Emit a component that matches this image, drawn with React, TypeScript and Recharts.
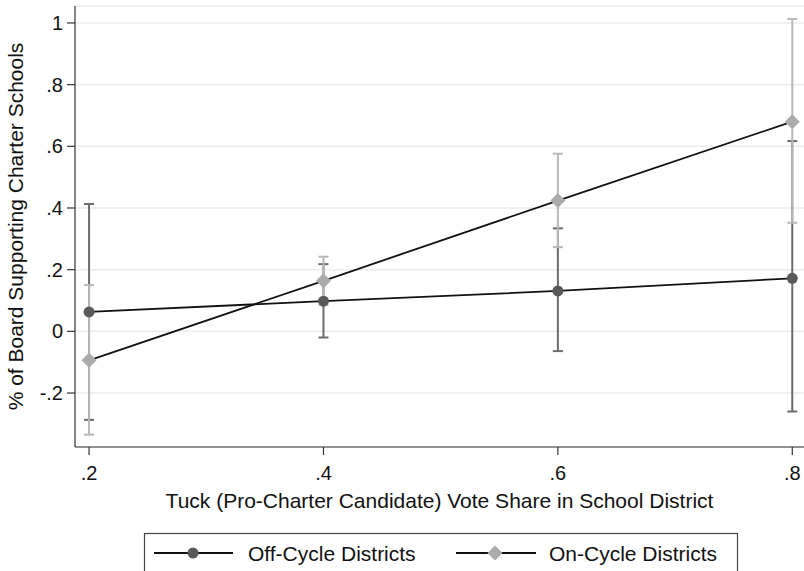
import React from 'react';
import { ComposedChart, Line, XAxis, YAxis, CartesianGrid, ErrorBar, Label } from 'recharts';

// Tuck vote share (x) and estimated share of board supporting charters
const voteShare = [0.2, 0.4, 0.6, 0.8];
const offCycle = [0.063, 0.098, 0.131, 0.172];
const offCycleLow = [-0.287, -0.02, -0.064, -0.26];
const offCycleHigh = [0.413, 0.218, 0.334, 0.617];
const onCycle = [-0.094, 0.164, 0.424, 0.68];
const onCycleLow = [-0.335, 0.086, 0.273, 0.352];
const onCycleHigh = [0.15, 0.242, 0.576, 1.013];

const xTicks = [0.2, 0.4, 0.6, 0.8];
const yTicks = [-0.2, 0, 0.2, 0.4, 0.6, 0.8, 1];

const FONT = '"Liberation Sans", Arial, Helvetica, sans-serif';
const DARK = '#595959';
const DARK_BAR = '#6b6b6b';
const LIGHT = '#ababab';
const LIGHT_BAR = '#b8b8b8';

const chartData = voteShare.map((x, i) => ({
  x,
  off: offCycle[i],
  on: onCycle[i],
  offErr: [offCycle[i] - offCycleLow[i], offCycleHigh[i] - offCycle[i]],
  onErr: [onCycle[i] - onCycleLow[i], onCycleHigh[i] - onCycle[i]],
}));

const fmt = (v: number) => {
  if (v === 0) return '0';
  if (v === 1) return '1';
  const s = v.toFixed(1);
  return s.replace('0.', '.');
};

const CircleDot = (props: any) => {
  const { cx, cy, index } = props;
  return <circle key={`c${index}`} cx={cx} cy={cy} r={5.5} fill={DARK} />;
};

const DiamondDot = (props: any) => {
  const { cx, cy, index } = props;
  const s = 7.5;
  return (
    <polygon
      key={`d${index}`}
      points={`${cx},${cy - s} ${cx + s},${cy} ${cx},${cy + s} ${cx - s},${cy}`}
      fill={LIGHT}
    />
  );
};

const LegendBox = () => (
  <svg width={804} height={571} style={{ position: 'absolute', left: 0, top: 0, pointerEvents: 'none' }}>
    <rect x={144.5} y={533.5} width={593} height={50} fill="#fff" stroke="#444" strokeWidth={1.2} />
    <line x1={154} y1={553} x2={233} y2={553} stroke="#111" strokeWidth={1.8} />
    <circle cx={193} cy={553} r={5.5} fill={DARK} />
    <text x={248} y={560.5} fontSize={21} fontFamily={FONT} fill="#111">Off-Cycle Districts</text>
    <line x1={456} y1={553} x2={536} y2={553} stroke="#111" strokeWidth={1.8} />
    <polygon points="495,545.5 502.5,553 495,560.5 487.5,553" fill={LIGHT} />
    <text x={549} y={560.5} fontSize={21} fontFamily={FONT} fill="#111">On-Cycle Districts</text>
  </svg>
);

export default function App() {
  return (
    <div style={{ position: 'absolute', left: 0, top: 0, width: 804, height: 571, overflow: 'hidden', background: '#fff' }}>
      <ComposedChart width={804} height={571} data={chartData} margin={{ top: 6, right: 0, left: 0, bottom: 44 }}>
        <CartesianGrid vertical={false} stroke="#ebebeb" strokeWidth={1.5} />
        <XAxis
          type="number"
          dataKey="x"
          domain={[0.188, 0.81]}
          allowDataOverflow
          ticks={xTicks}
          tickFormatter={fmt}
          height={80}
          tickSize={8}
          tickMargin={11}
          stroke="#333"
          strokeWidth={1.2}
          tick={{ fill: '#111', fontSize: 20, fontFamily: FONT }}
        >
          <Label
            content={(p: any) => {
              const vb = p.viewBox;
              return (
                <text x={vb.x + vb.width / 2} y={vb.y + 61} textAnchor="middle" fontSize={21} fontFamily={FONT} fill="#111">
                  Tuck (Pro-Charter Candidate) Vote Share in School District
                </text>
              );
            }}
          />
        </XAxis>
        <YAxis
          type="number"
          domain={[-0.375, 1.055]}
          allowDataOverflow
          ticks={yTicks}
          tickFormatter={fmt}
          width={75}
          tickSize={8}
          tickMargin={4}
          stroke="#333"
          strokeWidth={1.2}
          tick={{ fill: '#111', fontSize: 20, fontFamily: FONT }}
        >
          <Label
            content={(p: any) => {
              const vb = p.viewBox;
              const cy = vb.y + vb.height / 2;
              return (
                <text x={23} y={cy} transform={`rotate(-90, 23, ${cy})`} textAnchor="middle" fontSize={21} fontFamily={FONT} fill="#111">
                  % of Board Supporting Charter Schools
                </text>
              );
            }}
          />
        </YAxis>
        <Line dataKey="off" stroke="none" dot={false} activeDot={false} isAnimationActive={false}>
          <ErrorBar dataKey="offErr" direction="y" width={5} stroke={DARK_BAR} strokeWidth={2} />
        </Line>
        <Line dataKey="on" stroke="none" dot={false} activeDot={false} isAnimationActive={false}>
          <ErrorBar dataKey="onErr" direction="y" width={5} stroke={LIGHT_BAR} strokeWidth={2} />
        </Line>
        <Line dataKey="off" type="linear" stroke="#111" strokeWidth={1.8} dot={CircleDot} activeDot={false} isAnimationActive={false} />
        <Line dataKey="on" type="linear" stroke="#111" strokeWidth={1.8} dot={DiamondDot} activeDot={false} isAnimationActive={false} />
      </ComposedChart>
      <LegendBox />
    </div>
  );
}
